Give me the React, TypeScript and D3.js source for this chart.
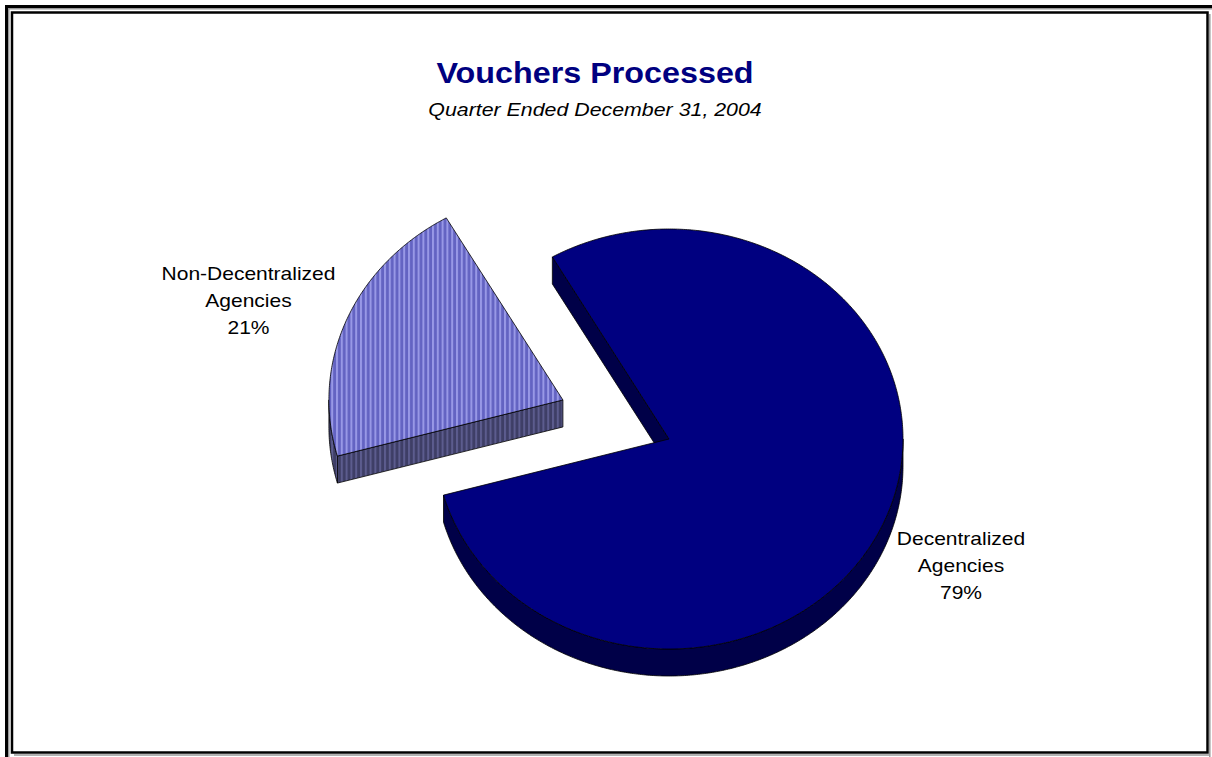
import React from "react";
import * as d3 from "d3";

// ---- data ----
const categories = ["Non-Decentralized Agencies", "Decentralized Agencies"];
const values = [21, 79];
const labelLines = [
  ["Non-Decentralized", "Agencies", "21%"],
  ["Decentralized", "Agencies", "79%"],
];
const exploded = [0.49, 0];
const title = "Vouchers Processed";
const subtitle = "Quarter Ended December 31, 2004";

// ---- layout ----
const W = 1212;
const H = 757;
const cx = 669;
const cy = 439;
const rx = 234;
const ry = 210;
const depth = 27;
const startDeg = -105.5;
const labelPos = [
  [248.5, 280],
  [961, 545],
];
const lineGap = 26.8;
const sx = 1.13;

const deg = Math.PI / 180;

function pt(theta: number, ox: number, oy: number, dy = 0): [number, number] {
  return [cx + ox + rx * Math.sin(theta), cy + oy - ry * Math.cos(theta) + dy];
}

function arcPts(a: number, b: number, ox: number, oy: number, dy = 0) {
  const n = Math.max(2, Math.ceil(Math.abs(b - a) / (0.5 * deg)));
  return d3.range(n + 1).map((i) => pt(a + ((b - a) * i) / n, ox, oy, dy));
}

const line = d3.line<[number, number]>();

export default function App() {
  const pie = d3
    .pie<number>()
    .sort(null)
    .startAngle(startDeg * deg)
    .endAngle(startDeg * deg + 2 * Math.PI);
  const arcs = pie(values);

  const fills = ["url(#stripeTop)", "#000080"];
  const sideFills = ["url(#stripeSide)", "#000048"];

  const slices = arcs.map((a, i) => {
    const mid = (a.startAngle + a.endAngle) / 2;
    const ox = exploded[i] * rx * Math.sin(mid);
    const oy = -exploded[i] * ry * Math.cos(mid);
    const apex: [number, number] = [cx + ox, cy + oy];
    const apexB: [number, number] = [cx + ox, cy + oy + depth];
    const s = a.startAngle;
    const e = a.endAngle;
    const sides: string[] = [];
    if (-Math.sin(s) > 0) {
      sides.push(
        line([apex, pt(s, ox, oy), pt(s, ox, oy, depth), apexB])! + "Z"
      );
    }
    if (Math.sin(e) > 0) {
      sides.push(
        line([apex, pt(e, ox, oy), pt(e, ox, oy, depth), apexB])! + "Z"
      );
    }
    let s0 = s;
    while (s0 < 0) s0 += 2 * Math.PI;
    while (s0 >= 2 * Math.PI) s0 -= 2 * Math.PI;
    const e0 = s0 + (e - s);
    const windows = [
      [90 * deg, 270 * deg],
      [450 * deg, 630 * deg],
    ];
    windows.forEach(([w0, w1]) => {
      const lo = Math.max(w0, s0);
      const hi = Math.min(w1, e0);
      if (hi > lo) {
        const top = arcPts(lo, hi, ox, oy);
        const bot = arcPts(hi, lo, ox, oy, depth);
        sides.push(line([...top, ...bot])! + "Z");
      }
    });
    const topPath = line([apex, ...arcPts(s, e, ox, oy)])! + "Z";
    return { sides, topPath, i };
  });

  return (
    <svg
      width={W}
      height={H}
      style={{ position: "absolute", left: 0, top: 0, background: "#fff" }}
      fontFamily="'Liberation Sans', Arial, sans-serif"
    >
      <defs>
        <pattern id="stripeTop" patternUnits="userSpaceOnUse" width={4.8} height={10}>
          <rect width={4.8} height={10} fill="#6363c2" />
          <rect x={0} width={2} height={10} fill="#9898e6" />
        </pattern>
        <pattern id="stripeSide" patternUnits="userSpaceOnUse" width={4.8} height={10}>
          <rect width={4.8} height={10} fill="#3e3e66" />
          <rect x={0} width={2} height={10} fill="#5c5c8e" />
        </pattern>
      </defs>
      <rect width={W} height={H} fill="#fff" />
      {/* border */}
      <rect x={6.5} y={6.5} width={W + 10} height={H + 10} fill="none" stroke="#000" strokeWidth={3} />
      <rect x={8.75} y={8.75} width={W} height={H} fill="none" stroke="#999" strokeWidth={1.5} />
      <rect x={12} y={12.5} width={1195.5} height={740} fill="none" stroke="#000" strokeWidth={2.5} />
      <line x1={1209.8} y1={14} x2={1209.8} y2={757} stroke="#999" strokeWidth={1.5} />
      <line x1={14} y1={755} x2={1210} y2={755} stroke="#999" strokeWidth={1.5} />

      {/* title */}
      <text
        transform={`translate(595,83) scale(${sx},1)`}
        textAnchor="middle"
        fontSize={28.6}
        fontWeight="bold"
        fill="#000080"
      >
        {title}
      </text>
      <text
        transform={`translate(595,116) scale(${sx},1)`}
        textAnchor="middle"
        fontSize={18.9}
        fontStyle="italic"
        fill="#000"
      >
        {subtitle}
      </text>

      {/* pie */}
      {slices.map((sl) => (
        <g key={categories[sl.i]}>
          {sl.sides.map((d, k) => (
            <path key={k} d={d} fill={sideFills[sl.i]} stroke="#000" strokeWidth={0.8} strokeLinejoin="round" />
          ))}
          <path d={sl.topPath} fill={fills[sl.i]} stroke="#000" strokeWidth={0.8} strokeLinejoin="round" />
        </g>
      ))}

      {/* labels */}
      {labelLines.map((lines, i) =>
        lines.map((t, k) => (
          <text
            key={`${i}-${k}`}
            transform={`translate(${labelPos[i][0]},${labelPos[i][1] + k * lineGap}) scale(${sx},1)`}
            textAnchor="middle"
            fontSize={18.6}
            fill="#000"
          >
            {t}
          </text>
        ))
      )}
    </svg>
  );
}
